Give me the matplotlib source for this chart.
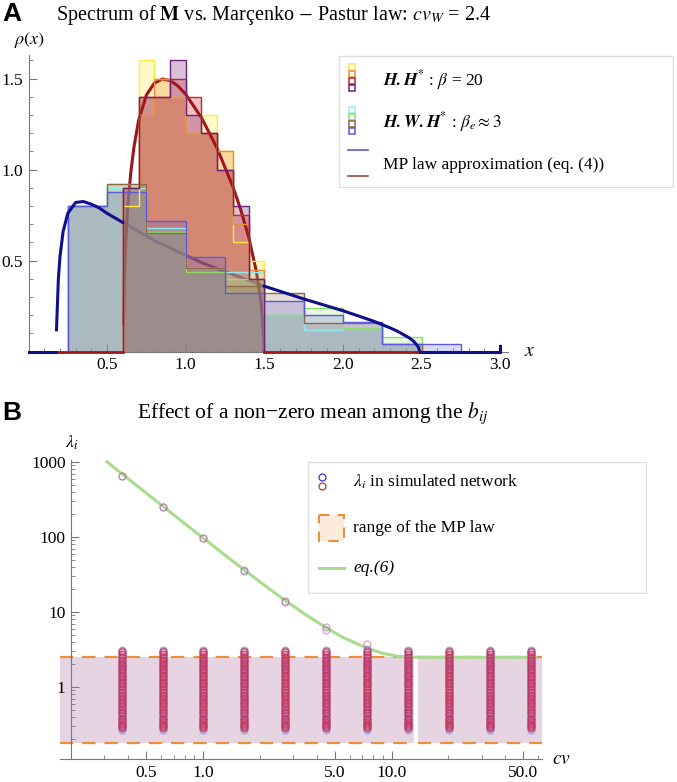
import numpy as np
import matplotlib.pyplot as plt
from matplotlib.patches import Rectangle

plt.rcParams['font.family'] = 'serif'
plt.rcParams['font.serif'] = ['Liberation Serif', 'DejaVu Serif']
plt.rcParams['mathtext.fontset'] = 'stix'

W, H = 677, 782

# ---------------- panel A data ----------------
hh_edges = [0.6, 0.7, 0.8, 0.9, 1.0, 1.1, 1.2, 1.3, 1.4, 1.5]
hh_yellow = [0.80, 1.60, 1.50, 1.40, 1.20, 1.30, 1.10, 0.60, 0.50]
hh_orange = [0.90, 1.30, 1.50, 1.40, 1.20, 1.20, 1.10, 0.70, 0.45]
hh_red = [0.90, 1.40, 1.40, 1.50, 1.40, 1.20, 1.00, 0.75, 0.40]
hh_purple = [0.90, 1.40, 1.40, 1.60, 1.30, 1.20, 1.00, 0.80, 0.40]

hwh_edges = [0.25, 0.5, 0.75, 1.0, 1.25, 1.5, 1.75, 2.0, 2.25, 2.5, 2.75]
hwh_cyan = [0.80, 0.90, 0.68, 0.46, 0.44, 0.20, 0.12, 0.13, 0.04, 0.00]
hwh_green = [0.80, 0.92, 0.66, 0.44, 0.40, 0.20, 0.24, 0.13, 0.08, 0.00]
hwh_brown = [0.80, 0.92, 0.65, 0.46, 0.36, 0.32, 0.16, 0.16, 0.04, 0.00]
hwh_blue = [0.80, 0.88, 0.72, 0.52, 0.32, 0.28, 0.20, 0.165, 0.04, 0.04]

mp_blue_x = [0.178, 0.19, 0.2, 0.22, 0.25, 0.3, 0.35, 0.4, 0.45, 0.5, 0.6, 0.7, 0.8, 0.9, 1.0,
             1.1, 1.25, 1.5, 1.75, 2.0, 2.1, 2.2, 2.3, 2.35, 2.42, 2.45, 2.48, 2.488]
mp_blue_y = [0.12, 0.40, 0.52, 0.66, 0.76, 0.82, 0.825, 0.81, 0.79, 0.76, 0.71, 0.66, 0.61, 0.57, 0.53,
             0.49, 0.44, 0.36, 0.29, 0.225, 0.196, 0.166, 0.131, 0.111, 0.077, 0.057, 0.026, 0.0]
mp_red_x = [0.604, 0.61, 0.62, 0.63, 0.65, 0.67, 0.7, 0.75, 0.8, 0.85, 0.9, 0.95, 1.0, 1.1, 1.2,
            1.3, 1.35, 1.4, 1.45, 1.48, 1.495, 1.497]
mp_red_y = [0.15, 0.42, 0.63, 0.78, 0.98, 1.12, 1.27, 1.41, 1.475, 1.498, 1.49, 1.46, 1.414, 1.286, 1.117,
            0.907, 0.78, 0.632, 0.438, 0.263, 0.09, 0.0]
zero_left_blue = [0.0, 0.178]
zero_right_blue_x = [2.488, 3.0, 3.0]
zero_right_blue_y = [0.0, 0.0, 0.03]

# ---------------- panel B data ----------------
cv_values = [0.37, 0.61, 1.0, 1.65, 2.72, 4.48, 7.39, 12.18, 20.09, 33.12, 54.6]
bulk_red = [0.28, 0.29, 0.30, 0.31, 0.32, 0.33, 0.345, 0.36, 0.375, 0.39, 0.41, 0.43, 0.45, 0.47,
            0.49, 0.51, 0.535, 0.56, 0.585, 0.61, 0.64, 0.67, 0.70, 0.73, 0.76, 0.79, 0.83, 0.87,
            0.91, 0.95, 0.99, 1.03, 1.08, 1.13, 1.18, 1.23, 1.28, 1.34, 1.40, 1.46, 1.52, 1.59,
            1.66, 1.73, 1.80, 1.88, 1.96, 2.04, 2.13, 2.22, 2.31, 2.41, 2.52, 2.64, 2.78, 2.92, 3.02]
bulk_blue = [0.27, 0.285, 0.30, 0.32, 0.35, 0.38, 0.42, 0.46, 0.50, 0.55, 0.60, 0.66, 0.72, 0.79,
             0.86, 0.94, 1.02, 1.11, 1.21, 1.31, 1.42, 1.54, 1.67, 1.81, 1.96, 2.12, 2.30, 2.50,
             2.72, 2.95, 3.08]
out_cv = [0.37, 0.61, 1.0, 1.65, 2.72, 4.48, 7.39]
out_red = [660, 250, 97, 36, 14.0, 6.3, 3.7]
out_blue = [650, 248, 96, 35, 13.5, 5.7, 3.2]

eq6_cv = [0.31, 0.37, 0.5, 0.61, 0.8, 1.0, 1.3, 1.65, 2.0, 2.72, 3.5, 4.48, 5.5, 7.39, 9.0,
          11.0, 12.9, 20.0, 35.0, 58.0]
eq6_lam = [1000, 702, 385, 259, 151, 97.3, 58, 36.6, 25.3, 14.3, 9.2, 6.2, 4.6, 3.3, 2.8,
           2.55, 2.49, 2.49, 2.49, 2.49]

mp_lo, mp_hi = 0.179, 2.488
fill_parts = [(0.1745, 13.2), (13.8, 62.7)]

fig = plt.figure(figsize=(W / 100, H / 100), dpi=100)

# ================= panel A =================
axA = fig.add_axes([28.5 / W, 1 - 351.7 / H, 479.5 / W, (351.7 - 55) / H])
axA.set_xlim(0, 3.05)
axA.set_ylim(0, 1.63)

hh = [(hh_yellow, '#FFE93A'), (hh_orange, '#E98F3C'), (hh_red, '#C2262E'), (hh_purple, '#6E2277')]
hwh = [(hwh_cyan, '#8FECEF'), (hwh_green, '#8EDD66'), (hwh_brown, '#8B6A45'), (hwh_blue, '#5A5ADC')]

# HH fills underneath, HWH fills on top (overlap turns grey)
for idx in [0, 3, 1, 2]:
    vals, c = hh[idx]
    axA.stairs(vals, hh_edges, fill=True, color=c, alpha=0.28, lw=0, zorder=2)
axA.plot(mp_red_x, mp_red_y, color='#A0141A', lw=2.2, zorder=2.5)
for vals, c in hwh:
    axA.stairs(vals, hwh_edges, fill=True, color=c, alpha=0.22, lw=0, zorder=3)
for vals, c in hwh:
    axA.stairs(vals, hwh_edges, color=c, lw=1.0, baseline=0, zorder=3.1)
for vals, c in hh:
    axA.stairs(vals, hh_edges, color=c, lw=1.0, baseline=0, zorder=3.2)

# blue MP curve: bright outside the HH support, muted under the HH bars
bx = np.array(mp_blue_x)
by = np.array(mp_blue_y)
inside = (bx >= 0.6) & (bx <= 1.5)
left = bx <= 0.6
right = bx >= 1.5
axA.plot(bx[left], by[left], color='#10108C', lw=2.2, zorder=3.5)
axA.plot(bx[right], by[right], color='#10108C', lw=2.2, zorder=3.5)
axA.plot(bx[inside], by[inside], color='#10108C', lw=2.2, zorder=1.5)

axA.plot([0, 0.6], [0, 0], color='#A0141A', lw=2, clip_on=False, zorder=5)
axA.plot([1.5, 3.0], [0, 0], color='#A0141A', lw=2, clip_on=False, zorder=5)
axA.plot(zero_left_blue, [0, 0], color='#10108C', lw=2.2, clip_on=False, zorder=6)
axA.plot(zero_right_blue_x, zero_right_blue_y, color='#10108C', lw=2.2, clip_on=False, zorder=6)

for s in ['top', 'right']:
    axA.spines[s].set_visible(False)
for s in ['left', 'bottom']:
    axA.spines[s].set_color('#777777')
axA.set_xticks([0.5, 1.0, 1.5, 2.0, 2.5, 3.0])
axA.set_xticklabels(['0.5', '1.0', '1.5', '2.0', '2.5', '3.0'])
axA.set_xticks(np.arange(0.1, 3.05, 0.1), minor=True)
axA.set_yticks([0.5, 1.0, 1.5])
axA.set_yticklabels(['0.5', '1.0', '1.5'])
axA.set_yticks(np.arange(0.1, 1.62, 0.1), minor=True)
axA.tick_params(which='both', direction='in', color='#777777', labelsize=12.5, pad=4)
axA.tick_params(which='major', length=6)
axA.tick_params(which='minor', length=3)

fig.text(30 / W, 1 - 40 / H, r'$\rho(x)$', ha='center', va='center', fontsize=13)
fig.text(530 / W, 1 - 352 / H, r'$x$', ha='center', va='center', fontsize=14)
fig.text(274 / W, 1 - 15 / H, r'Spectrum of $\mathbf{M}$ vs. Marçenko $-$ Pastur law: $cv_W$ = 2.4',
         ha='center', va='center', fontsize=14.5)
fig.text(2 / W, 1 - 14 / H, 'A', ha='left', va='center', fontsize=19, fontweight='bold',
         family='Liberation Sans')

# legend A
legA = fig.add_axes([338 / W, 1 - 188 / H, 336 / W, 133 / H])
legA.set_xlim(338, 674)
legA.set_ylim(188, 55)
legA.axis('off')
legA.add_patch(Rectangle((338.5, 55.5), 334, 131, fc='white', ec='#DDDDDD', lw=1))
for (vals, c), y in zip(hh, [67, 74, 81, 88]):
    legA.plot(352, y, marker='s', ms=4, mfc='white', mec=c, mew=1.1)
for (vals, c), y in zip(hwh, [110, 117, 124, 131]):
    legA.plot(352, y, marker='s', ms=4, mfc='white', mec=c, mew=1.1)
legA.plot([348, 368], [150, 150], color='#5A5ADC', lw=1.2)
legA.plot([348, 368], [176, 176], color='#A04048', lw=1.2)
legA.text(383, 80, r'$\mathbfit{H.H}^{*}$ : $\beta$ = 20', va='center', fontsize=12.5)
legA.text(383, 122, r'$\mathbfit{H.W.H}^{*}$ : $\beta_e\approx 3$', va='center', fontsize=12.5)
legA.text(383, 165, 'MP law approximation (eq. (4))', va='center', fontsize=12.5)

# ================= panel B =================
axB = fig.add_axes([60 / W, 1 - 759 / H, 482 / W, (759 - 460) / H])
axB.set_xscale('log')
axB.set_yscale('log')
axB.set_xlim(0.1745, 62.7)
axB.set_ylim(0.1096, 1063)

for x0, x1 in fill_parts:
    axB.fill_between([x0, x1], [mp_lo, mp_lo], [mp_hi, mp_hi], color='#E6D4E2', lw=0, zorder=1)
    axB.plot([x0, x1], [mp_lo, mp_lo], color='#E8913A', lw=1.6, dashes=(6, 4), zorder=2)
    axB.plot([x0, x1], [mp_hi, mp_hi], color='#E8913A', lw=1.6, dashes=(6, 4), zorder=2)

axB.plot(eq6_cv, eq6_lam, color='#A9DC8E', lw=2.2, zorder=3)

for cv in cv_values:
    axB.plot([cv] * len(bulk_blue), bulk_blue, ls='none', marker='o', ms=5, mfc='none',
             mec='#7474E0', mew=0.8, alpha=0.6, zorder=4)
    axB.plot([cv] * len(bulk_red), bulk_red, ls='none', marker='o', ms=5, mfc='none',
             mec='#C8365E', mew=0.8, alpha=0.7, zorder=5)
axB.plot(out_cv, out_blue, ls='none', marker='o', ms=5, mfc='none', mec='#8C7CD8', mew=0.8, alpha=0.7, zorder=4)
axB.plot(out_cv, out_red, ls='none', marker='o', ms=5, mfc='none', mec='#C07090', mew=0.8, alpha=0.7, zorder=5)

for s in ['top', 'right']:
    axB.spines[s].set_visible(False)
axB.spines['left'].set_position(('data', 0.2))
for s in ['left', 'bottom']:
    axB.spines[s].set_color('#777777')
axB.set_xticks([0.5, 1.0, 5.0, 10.0, 50.0])
axB.set_xticklabels(['0.5', '1.0', '5.0', '10.0', '50.0'])
axB.set_xticks([0.2, 0.3, 0.4, 0.6, 0.7, 0.8, 0.9, 2, 3, 4, 6, 7, 8, 9, 20, 30, 40, 60], minor=True)
axB.set_yticks([1, 10, 100, 1000])
axB.set_yticklabels(['1', '10', '100', '1000'])
yminor = [m * 10.0 ** k for k in range(-1, 3) for m in range(2, 10)]
axB.set_yticks([v for v in yminor if 0.11 < v < 1000], minor=True)
axB.yaxis.set_minor_formatter(plt.NullFormatter())
axB.xaxis.set_minor_formatter(plt.NullFormatter())
axB.tick_params(which='both', direction='in', color='#777777', labelsize=12.5, pad=4)
axB.tick_params(which='major', length=6)
axB.tick_params(which='minor', length=3)

fig.text(72 / W, 1 - 443 / H, r'$\lambda_i$', ha='center', va='center', fontsize=13)
fig.text(561 / W, 1 - 760 / H, r'$cv$', ha='center', va='center', fontsize=14)
fig.text(313 / W, 1 - 413 / H, 'Effect of a non\u2212zero mean among the $b_{ij}$',
         ha='center', va='center', fontsize=15.5)
fig.text(2 / W, 1 - 413 / H, 'B', ha='left', va='center', fontsize=19, fontweight='bold',
         family='Liberation Sans')

# legend B
legB = fig.add_axes([307 / W, 1 - 594 / H, 340 / W, 134 / H])
legB.set_xlim(307, 647)
legB.set_ylim(594, 460)
legB.axis('off')
legB.add_patch(Rectangle((307.5, 461.5), 338, 131, fc='white', ec='#DDDDDD', lw=1))
legB.plot(322, 477, marker='o', ms=5, mfc='none', mec='#3434D0', mew=0.9)
legB.plot(322, 486, marker='o', ms=5, mfc='none', mec='#D03434', mew=0.9)
legB.add_patch(Rectangle((319, 515), 25, 26, fc='#FBEBDA', ec='#E8913A', lw=1.5, ls=(0, (5, 4))))
legB.plot([319, 344], [568, 568], color='#A9DC8E', lw=2.2)
legB.text(353, 482, r'$\lambda_i$ in simulated network', va='center', fontsize=12.5)
legB.text(353, 528, 'range of the MP law', va='center', fontsize=12.5)
legB.text(353, 568, 'eq.(6)', va='center', fontsize=12.5, fontstyle='italic')

fig.savefig('out.png', dpi=100)
